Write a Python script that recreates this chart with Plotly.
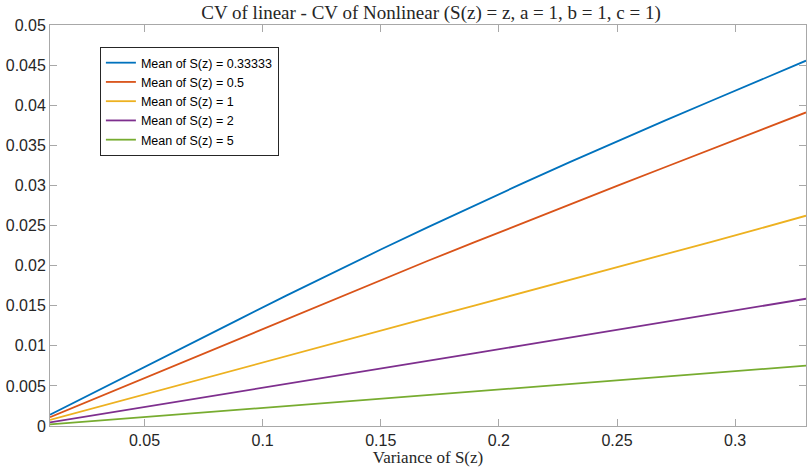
import plotly.graph_objects as go

variance = [0.01, 0.03, 0.05, 0.07, 0.09, 0.11, 0.13, 0.15, 0.17, 0.19,
            0.21, 0.23, 0.25, 0.27, 0.29, 0.31, 0.33]

cv_mean_0_33333 = [0.00140, 0.00440, 0.00740, 0.01035, 0.01330, 0.01625, 0.01915, 0.02200, 0.02480,
                   0.02755, 0.03025, 0.03290, 0.03550, 0.03805, 0.04055, 0.04305, 0.04555]
cv_mean_0_5 = [0.00110, 0.00355, 0.00600, 0.00845, 0.01090, 0.01335, 0.01580, 0.01822, 0.02060,
               0.02295, 0.02530, 0.02762, 0.02993, 0.03223, 0.03453, 0.03683, 0.03910]
cv_mean_1 = [0.00075, 0.00235, 0.00395, 0.00555, 0.00715, 0.00875, 0.01033, 0.01190, 0.01347,
             0.01505, 0.01662, 0.01820, 0.01978, 0.02137, 0.02297, 0.02458, 0.02622]
cv_mean_2 = [0.00045, 0.00140, 0.00236, 0.00332, 0.00428, 0.00524, 0.00620, 0.00717, 0.00813,
             0.00909, 0.01005, 0.01101, 0.01198, 0.01295, 0.01392, 0.01490, 0.01587]
cv_mean_5 = [0.00020, 0.00066, 0.00112, 0.00158, 0.00204, 0.00250, 0.00296, 0.00342, 0.00388,
             0.00434, 0.00480, 0.00526, 0.00572, 0.00618, 0.00664, 0.00710, 0.00752]

series_names = ["Mean of S(z) = 0.33333", "Mean of S(z) = 0.5", "Mean of S(z) = 1",
                "Mean of S(z) = 2", "Mean of S(z) = 5"]
series_values = [cv_mean_0_33333, cv_mean_0_5, cv_mean_1, cv_mean_2, cv_mean_5]
colors = ["#0072BD", "#D95319", "#EDB120", "#7E2F8E", "#77AC30"]

y_ticks = [0, 0.005, 0.01, 0.015, 0.02, 0.025, 0.03, 0.035, 0.04, 0.045, 0.05]
y_tick_labels = ["0", "0.005", "0.01", "0.015", "0.02", "0.025", "0.03", "0.035", "0.04", "0.045", "0.05"]
x_ticks = [0.05, 0.1, 0.15, 0.2, 0.25, 0.3]
x_tick_labels = ["0.05", "0.1", "0.15", "0.2", "0.25", "0.3"]

fig = go.Figure()
for name, vals, col in zip(series_names, series_values, colors):
    fig.add_trace(go.Scatter(x=variance, y=vals, mode="lines", name=name,
                             line=dict(color=col, width=1.8)))

axis_common = dict(showgrid=False, zeroline=False, showline=True, linecolor="#a8a8a8",
                   linewidth=1, ticks="inside", ticklen=7, tickcolor="#a8a8a8",
                   tickfont=dict(family="Liberation Sans, Arial", size=16, color="#262626"),
                   mirror="ticks")

fig.update_layout(
    width=807, height=467,
    margin=dict(l=50, r=1, t=25, b=41),
    paper_bgcolor="white", plot_bgcolor="white",
    title=dict(text="CV of linear - CV of Nonlinear (S(z) = z, a = 1, b = 1, c = 1)",
               font=dict(family="Liberation Serif, DejaVu Serif", size=19, color="#262626"),
               x=431 / 807, xanchor="center", y=1 - 12 / 467, yanchor="middle"),
    xaxis=dict(range=[0.01, 0.33], tickvals=x_ticks, ticktext=x_tick_labels,
               title=dict(text="Variance of S(z)", standoff=0,
                          font=dict(family="Liberation Serif, DejaVu Serif", size=17, color="#262626")),
               **axis_common),
    yaxis=dict(range=[0, 0.05], tickvals=y_ticks, ticktext=y_tick_labels, **axis_common),
    legend=dict(x=0.066, y=0.945, xanchor="left", yanchor="top",
                bgcolor="white", bordercolor="#262626", borderwidth=1,
                font=dict(family="Liberation Sans, Arial", size=12.5, color="#000000"),
                tracegroupgap=0, itemwidth=30),
    showlegend=True,
)

fig.write_html("out.html", config={"displayModeBar": False},
               post_script="document.body.style.margin='0px';document.body.style.overflow='hidden';")
